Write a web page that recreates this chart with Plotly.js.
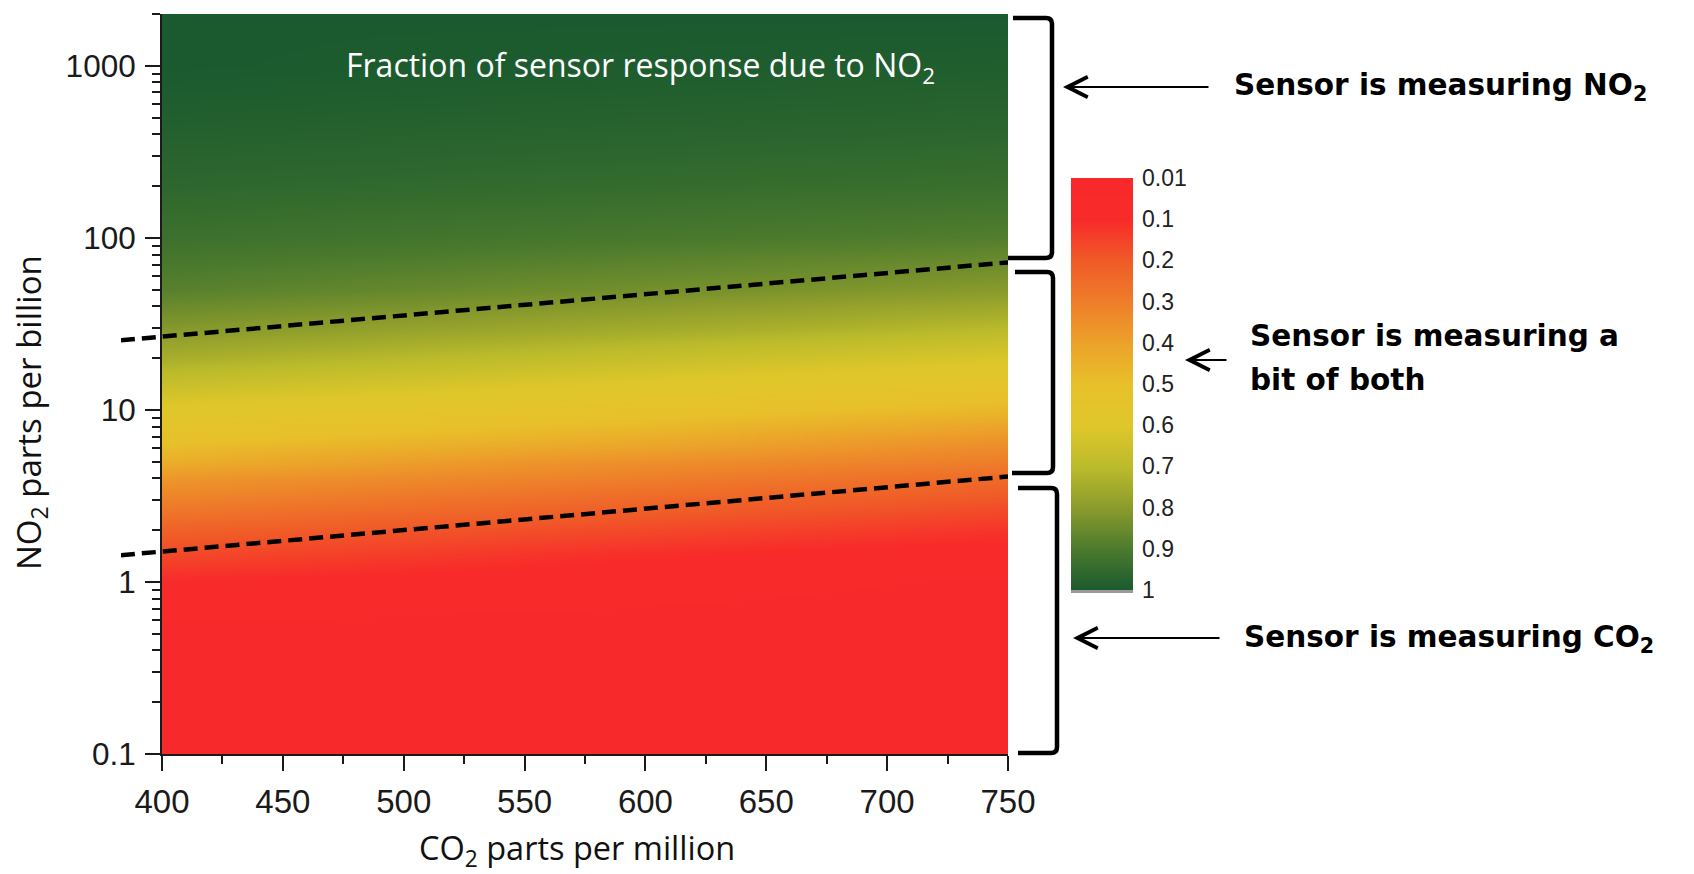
<!DOCTYPE html>
<html>
<head>
<meta charset="utf-8">
<script src="https://cdn.plot.ly/plotly-3.0.1.min.js"></script>
<style>html,body{margin:0;padding:0;background:#fff;}#chart{width:1694px;height:874px;}</style>
</head>
<body>
<div id="chart"></div>
<script>
// ---- data ----
const co2 = [400, 450, 500, 550, 600, 650, 700, 750];
const no2Levels = [0.1, 0.3, 0.6, 1, 1.5, 2, 3, 4, 5, 7, 10, 15, 20, 30, 50, 100, 200, 500, 1000, 2000];
const fractionNO2 = [
  [0.020, 0.020, 0.020, 0.020, 0.020, 0.020, 0.020, 0.020],
  [0.030, 0.029, 0.028, 0.028, 0.027, 0.026, 0.026, 0.025],
  [0.050, 0.048, 0.045, 0.043, 0.040, 0.038, 0.036, 0.033],
  [0.100, 0.092, 0.084, 0.076, 0.068, 0.059, 0.051, 0.048],
  [0.170, 0.156, 0.142, 0.127, 0.113, 0.099, 0.091, 0.083],
  [0.220, 0.206, 0.191, 0.177, 0.163, 0.148, 0.135, 0.120],
  [0.310, 0.292, 0.273, 0.255, 0.237, 0.219, 0.205, 0.190],
  [0.370, 0.353, 0.336, 0.319, 0.301, 0.282, 0.264, 0.246],
  [0.440, 0.414, 0.389, 0.365, 0.348, 0.331, 0.314, 0.296],
  [0.520, 0.500, 0.481, 0.461, 0.442, 0.416, 0.391, 0.367],
  [0.590, 0.574, 0.558, 0.542, 0.526, 0.507, 0.488, 0.468],
  [0.680, 0.662, 0.644, 0.625, 0.607, 0.589, 0.573, 0.556],
  [0.740, 0.723, 0.706, 0.689, 0.671, 0.652, 0.634, 0.616],
  [0.810, 0.796, 0.781, 0.767, 0.753, 0.738, 0.722, 0.705],
  [0.880, 0.869, 0.858, 0.846, 0.835, 0.824, 0.813, 0.801],
  [0.930, 0.924, 0.918, 0.912, 0.906, 0.900, 0.894, 0.888],
  [0.960, 0.956, 0.953, 0.949, 0.946, 0.942, 0.939, 0.935],
  [0.985, 0.983, 0.980, 0.978, 0.976, 0.974, 0.972, 0.969],
  [1.000, 0.998, 0.996, 0.995, 0.993, 0.991, 0.989, 0.988],
  [1.000, 1.000, 1.000, 1.000, 1.000, 1.000, 1.000, 1.000]
];
const boundaryCO2 = [383, 750];
const upperBoundaryNO2 = [25.4, 72];
const lowerBoundaryNO2 = [1.43, 4.1];

const xTickVals = [400, 450, 500, 550, 600, 650, 700, 750];
const yTickVals = [0.1, 1, 10, 100, 1000];
const yTickText = ['0.1', '1', '10', '100', '1000'];
const cbValues = [0.01, 0.1, 0.2, 0.3, 0.4, 0.5, 0.6, 0.7, 0.8, 0.9, 1];
const cbLabels = ['0.01', '0.1', '0.2', '0.3', '0.4', '0.5', '0.6', '0.7', '0.8', '0.9', '1'];

// ---- styling ----
const colorscale = [
  [0.0, '#f8292a'], [0.1, '#f82a2a'], [0.2, '#f05a28'], [0.3, '#ee7e2a'],
  [0.4, '#eca22a'], [0.5, '#e8c02a'], [0.6, '#dfc72a'], [0.7, '#bcbb2b'],
  [0.8, '#8a9b2c'], [0.9, '#4b7a2d'], [1.0, '#1a5a2e']
];
const W = 1694, H = 874;
const px = v => v / W;
const py = v => 1 - v / H;
const plotL = 162, plotR = 1008, plotT = 14, plotB = 754;
const pxPerPpm = (plotR - plotL) / (xTickVals[xTickVals.length - 1] - xTickVals[0]);
const extL = plotL - (xTickVals[0] - boundaryCO2[0]) * pxPerPpm;

const xTickFont = {family: 'Liberation Sans, Arial, sans-serif', size: 33, color: '#1a1a1a'};
const yTickFont = {family: 'Liberation Sans, Arial, sans-serif', size: 31.5, color: '#1a1a1a'};

const traces = [
  {
    type: 'heatmap', x: co2, y: no2Levels, z: fractionNO2,
    colorscale: colorscale, zmin: 0, zmax: 1, zsmooth: 'best',
    showscale: false, xaxis: 'x', yaxis: 'y', hoverinfo: 'skip'
  },
  {
    type: 'heatmap', x: [0], y: cbValues.map((v, i) => i), z: cbValues.map(v => [v]),
    colorscale: colorscale, zmin: 0, zmax: 1, zsmooth: 'best',
    showscale: false, xaxis: 'x2', yaxis: 'y2', hoverinfo: 'skip'
  },
  {
    type: 'scatter', mode: 'lines', x: boundaryCO2, y: upperBoundaryNO2,
    xaxis: 'x3', yaxis: 'y', line: {color: '#000', width: 4.5, dash: '14px,7px'}, hoverinfo: 'skip'
  },
  {
    type: 'scatter', mode: 'lines', x: boundaryCO2, y: lowerBoundaryNO2,
    xaxis: 'x3', yaxis: 'y', line: {color: '#000', width: 4.5, dash: '14px,7px'}, hoverinfo: 'skip'
  }
];

function bracket(x0, xv, yTop, yBot, x1) {
  const r = 6;
  return {
    type: 'path', xref: 'paper', yref: 'paper',
    path: `M${px(x0)},${py(yTop)} L${px(xv - r)},${py(yTop)} Q${px(xv)},${py(yTop)} ${px(xv)},${py(yTop + r)} ` +
          `L${px(xv)},${py(yBot - r)} Q${px(xv)},${py(yBot)} ${px(xv - r)},${py(yBot)} L${px(x1)},${py(yBot)}`,
    line: {color: '#000', width: 4.5}
  };
}

const boldFont = {family: 'DejaVu Sans, sans-serif', size: 29.5, color: '#000', weight: 'bold'};

function arrow(tipX, tipY, tailX) {
  return {
    xref: 'paper', yref: 'paper', x: px(tipX), y: py(tipY), ax: tailX - tipX, ay: 0,
    axref: 'pixel', ayref: 'pixel', text: '', showarrow: true,
    arrowhead: 5, arrowsize: 2, arrowwidth: 2, arrowcolor: '#000'
  };
}
function label(text, x, y, font, extra) {
  return Object.assign({
    xref: 'paper', yref: 'paper', x: px(x), y: py(y), text: text, showarrow: false,
    xanchor: 'left', yanchor: 'middle', font: font
  }, extra || {});
}

const layout = {
  width: W, height: H,
  margin: {l: 0, r: 0, t: 0, b: 0},
  paper_bgcolor: '#fff', plot_bgcolor: 'rgba(0,0,0,0)',
  showlegend: false,
  xaxis: {
    domain: [px(plotL), px(plotR)], range: [400, 750], anchor: 'y',
    tickmode: 'array', tickvals: xTickVals, ticks: 'outside', ticklen: 15, tickwidth: 2, tickcolor: '#1a1a1a',
    minor: {dtick: 25, tick0: 0, ticks: 'outside', ticklen: 8, tickwidth: 2, tickcolor: '#1a1a1a'},
    showline: true, linecolor: '#1a1a1a', linewidth: 2, showgrid: false, zeroline: false,
    tickfont: xTickFont, ticklabelstandoff: 2
  },
  yaxis: {
    domain: [py(plotB), py(plotT)], type: 'log', range: [-1, Math.log10(2000)], anchor: 'x',
    tickmode: 'array', tickvals: yTickVals, ticktext: yTickText,
    ticks: 'outside', ticklen: 15, tickwidth: 2, tickcolor: '#1a1a1a',
    minor: {dtick: 'D1', ticks: 'outside', ticklen: 8, tickwidth: 2, tickcolor: '#1a1a1a'},
    showline: true, linecolor: '#1a1a1a', linewidth: 2, showgrid: false, zeroline: false,
    tickfont: yTickFont, ticklabelstandoff: 3
  },
  xaxis2: {domain: [px(1071), px(1133)], range: [-0.5, 0.5], visible: false, anchor: 'y2'},
  yaxis2: {
    domain: [py(590), py(178)], range: [cbValues.length - 1, 0], anchor: 'x2', side: 'right',
    tickmode: 'array', tickvals: cbValues.map((v, i) => i), ticktext: cbLabels, ticks: '',
    showline: false, showgrid: false, zeroline: false,
    tickfont: {family: 'Liberation Sans, Arial, sans-serif', size: 23, color: '#222'}, ticklabelstandoff: 8
  },
  xaxis3: {domain: [px(extL), px(plotR)], range: [boundaryCO2[0], 750], visible: false, anchor: 'y'},
  shapes: [
    bracket(1013, 1052, 18, 258, 1008),
    bracket(1015, 1053, 272, 473, 1012),
    bracket(1018, 1057, 488, 753, 1018),
    {type: 'line', xref: 'paper', yref: 'paper', x0: px(1071), x1: px(1133), y0: py(591.5), y1: py(591.5),
     line: {color: '#9a9a9a', width: 3}}
  ],
  annotations: [
    label('Fraction of sensor response due to NO<sub>2</sub>', 640, 67,
      {family: 'Open Sans, sans-serif', size: 32, color: '#fff'}, {xanchor: 'center'}),
    label('NO<sub>2</sub> parts per billion', 30, 413,
      {family: 'Open Sans, sans-serif', size: 33, color: '#111'}, {xanchor: 'center', textangle: -90}),
    label('CO<sub>2</sub> parts per million', 577, 849,
      {family: 'Open Sans, sans-serif', size: 32.5, color: '#111'}, {xanchor: 'center'}),
    label('Sensor is measuring NO<sub>2</sub>', 1232, 87, boldFont),
    label('Sensor is measuring a', 1248, 336, boldFont),
    label('bit of both', 1248, 380, boldFont),
    label('Sensor is measuring CO<sub>2</sub>', 1242, 639, boldFont),
    arrow(1063, 87, 1210),
    arrow(1185, 360, 1228),
    arrow(1073, 638, 1221)
  ]
};

Plotly.newPlot('chart', traces, layout, {displayModeBar: false, staticPlot: true});
</script>
</body>
</html>
